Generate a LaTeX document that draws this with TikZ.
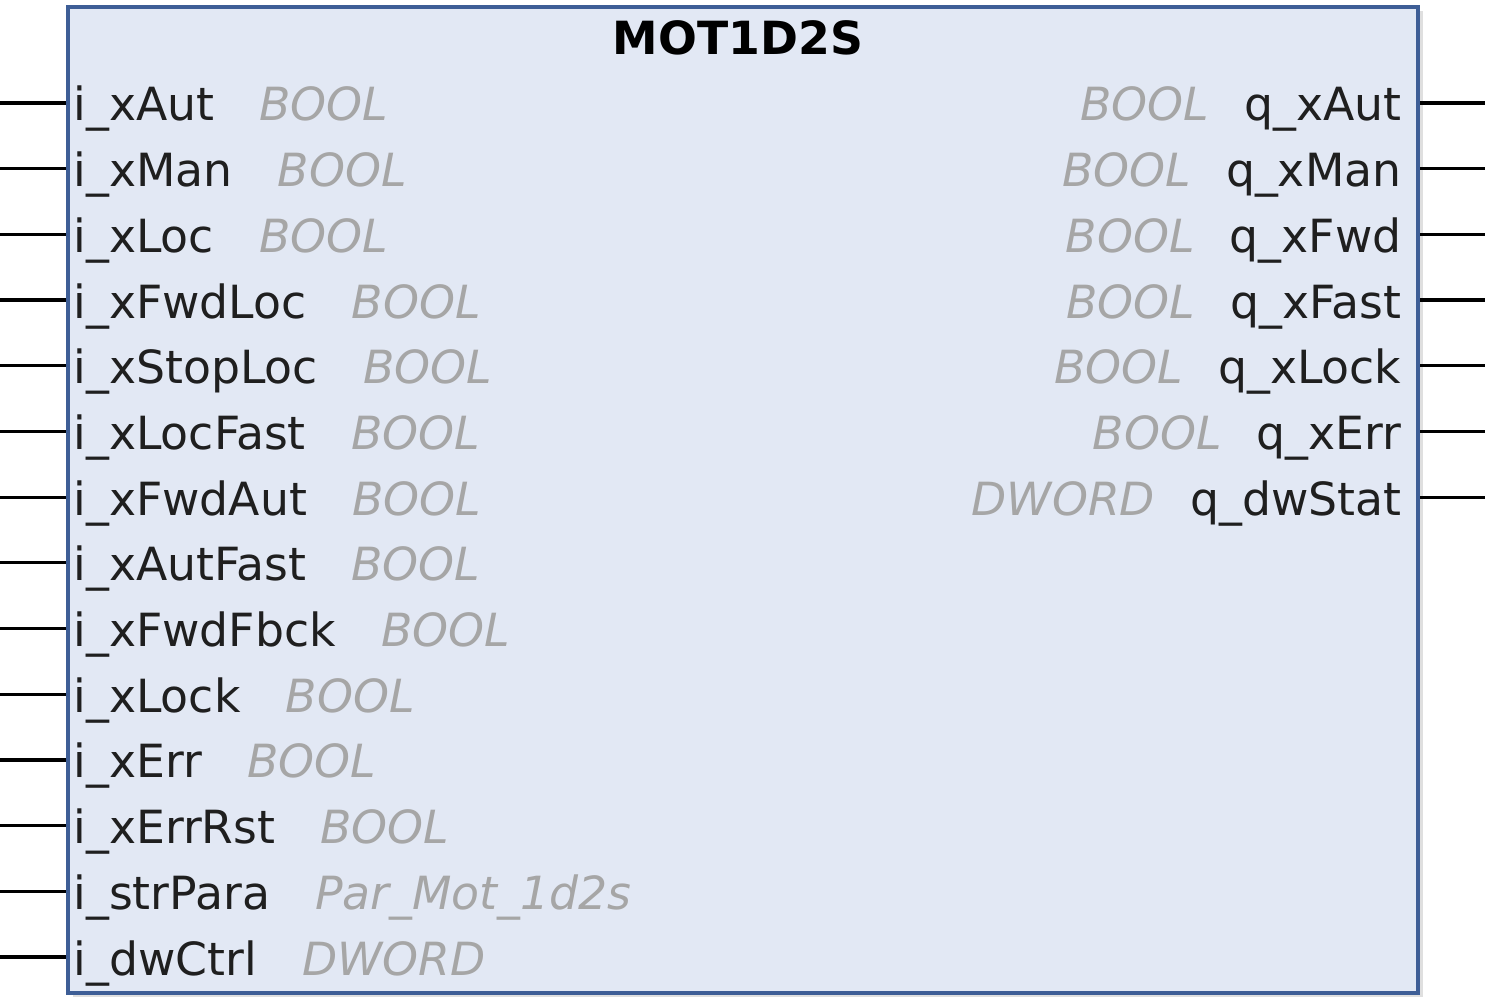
\documentclass[tikz,border=0pt]{standalone}
\usepackage{fontspec}
\setmainfont{DejaVu Sans}
\usetikzlibrary{positioning,shadows}
\definecolor{fbfill}{HTML}{E2E8F4}
\definecolor{fbline}{HTML}{3E5E96}
\definecolor{typegray}{HTML}{A6A6A6}
\begin{document}
\begin{tikzpicture}[x=0.01cm,y=-0.01cm]
        \tikzstyle{every path}=[line width=0.032cm]

        \tikzstyle{fb}=[draw=fbline,fill=fbfill,line width=0.04cm,minimum width=13.5cm,minimum height=9.86cm,inner sep=0pt]
        \tikzstyle{pinname}=[font=\fontsize{13}{15}\selectfont,text=black!88,inner sep=0pt]
        \tikzstyle{pintype}=[font=\fontsize{13}{15}\selectfont\itshape,text=typegray,inner sep=0pt]

        \useasboundingbox (0,0) rectangle (1500,998);

        \node[fb,drop shadow={shadow xshift=0.05cm,shadow yshift=-0.04cm,opacity=0.25}] (box) at (743,500) {};
        \node[font=\fontsize{13}{15}\selectfont\bfseries,inner sep=0pt,anchor=base] (title) at (738,55) {MOT1D2S};

        %inputs on the left
        \foreach \name/\type [count=\i from 0] in {xAut/BOOL, xMan/BOOL, xLoc/BOOL, xFwdLoc/BOOL,
                xStopLoc/BOOL, xLocFast/BOOL, xFwdAut/BOOL, xAutFast/BOOL, xFwdFbck/BOOL,
                xLock/BOOL, xErr/BOOL, xErrRst/BOOL, strPara/Par\_Mot\_1d2s, dwCtrl/DWORD} {
            \coordinate (inpin\i) at (0,{103+65.7*\i});
            \node[pinname,anchor=base west] at (72,{121+65.7*\i}) (in\i) {i\_\name};
            \node[pintype,right=0.42cm of in\i.base east,anchor=base west] (intype\i) {\type};
            \draw (inpin\i) -- (inpin\i -| box.west);
        };

        %outputs on the right
        \foreach \name/\type [count=\i from 0] in {xAut/BOOL, xMan/BOOL, xFwd/BOOL, xFast/BOOL,
                xLock/BOOL, xErr/BOOL, dwStat/DWORD} {
            \coordinate (outpin\i) at (1485,{103+65.7*\i});
            \node[pinname,anchor=base east] at (1403,{121+65.7*\i}) (out\i) {q\_\name};
            \node[pintype,left=0.32cm of out\i.base west,anchor=base east] (outtype\i) {\type};
            \draw (outpin\i -| box.east) -- (outpin\i);
        };
\end{tikzpicture}
\end{document}
